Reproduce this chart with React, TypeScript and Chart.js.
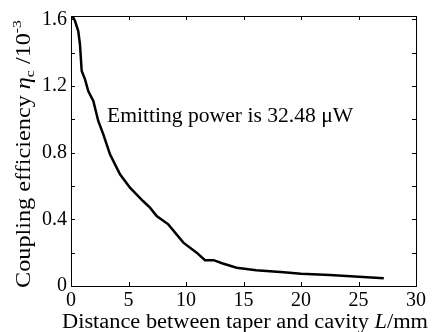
import React, { useEffect, useRef } from "react";
import { Chart, registerables } from "chart.js";

Chart.register(...registerables);

const distanceL = [0.1, 0.2, 0.35, 0.63, 0.78, 0.93, 1.22, 1.5, 1.94, 2.37, 2.81, 3.39, 4.26, 5.13, 6.26, 6.87, 7.45, 8.46, 9.77, 10.93, 11.65, 12.4, 13.2, 14.4, 16.1, 18.5, 20.0, 22.5, 27.2];
const efficiency = [1.62, 1.61, 1.59, 1.53, 1.45, 1.29, 1.24, 1.17, 1.11, 0.99, 0.91, 0.79, 0.67, 0.59, 0.51, 0.47, 0.42, 0.37, 0.26, 0.2, 0.155, 0.155, 0.135, 0.11, 0.095, 0.082, 0.074, 0.066, 0.046];
const xTicks = [0, 5, 10, 15, 20, 25, 30];
const yMinorTicks = [0, 0.2, 0.4, 0.6, 0.8, 1.0, 1.2, 1.4, 1.6];
const annotationText = "Emitting power is 32.48 \u03bcW";

const FONT = "'Liberation Serif', 'Times New Roman', serif";

type Part = { t: string; f: string; dy: number };

function drawParts(ctx: CanvasRenderingContext2D, parts: Part[], x: number, y: number, targetW: number, align: "center" | "left") {
  let w = 0;
  for (const p of parts) { ctx.font = p.f; w += ctx.measureText(p.t).width; }
  const sx = targetW / w;
  ctx.save();
  ctx.translate(x, y);
  ctx.scale(sx, 1);
  let px = align === "center" ? -w / 2 : 0;
  ctx.textAlign = "left";
  for (const p of parts) { ctx.font = p.f; ctx.fillText(p.t, px, p.dy); px += ctx.measureText(p.t).width; }
  ctx.restore();
}

const framePlugin = {
  id: "frameAndTitles",
  afterDraw(chart: any) {
    const ctx = chart.ctx as CanvasRenderingContext2D;
    const { left, right, top, bottom } = chart.chartArea;
    const xs = chart.scales.x;
    const ys = chart.scales.y;
    ctx.save();
    ctx.strokeStyle = "#000";
    ctx.lineWidth = 1;
    ctx.strokeRect(Math.round(left) + 0.5, Math.round(top) + 0.5, Math.round(right - left), Math.round(bottom - top));
    const tl = 4;
    ctx.beginPath();
    for (const v of xTicks) {
      const p = Math.round(xs.getPixelForValue(v)) + 0.5;
      ctx.moveTo(p, bottom);
      ctx.lineTo(p, bottom - tl);
      ctx.moveTo(p, top);
      ctx.lineTo(p, top + tl);
    }
    for (const v of yMinorTicks) {
      const p = Math.round(ys.getPixelForValue(v)) + 0.5;
      ctx.moveTo(left, p);
      ctx.lineTo(left + tl, p);
      ctx.moveTo(right, p);
      ctx.lineTo(right - tl, p);
    }
    ctx.stroke();

    ctx.fillStyle = "#000";
    ctx.textBaseline = "alphabetic";
    const size = 20;
    const normal = `${size}px ${FONT}`;
    const italic = `italic ${size}px ${FONT}`;
    const small = `13px ${FONT}`;

    // annotation
    ctx.font = normal;
    const aw = ctx.measureText(annotationText).width;
    drawParts(ctx, [{ t: annotationText, f: normal, dy: 0 }], 107, 122, aw * 1.08, "left");

    // x title
    drawParts(
      ctx,
      [
        { t: "Distance between taper and cavity ", f: normal, dy: 0 },
        { t: "L", f: italic, dy: 0 },
        { t: "/mm", f: normal, dy: 0 },
      ],
      245,
      328,
      366,
      "center"
    );

    // y title
    ctx.save();
    ctx.translate(30, 154);
    ctx.rotate(-Math.PI / 2);
    drawParts(
      ctx,
      [
        { t: "Coupling efficiency ", f: normal, dy: 0 },
        { t: "\u03b7", f: italic, dy: 0 },
        { t: "c", f: small, dy: 4 },
        { t: " /10", f: normal, dy: 0 },
        { t: "-3", f: small, dy: -9 },
      ],
      0,
      0,
      268,
      "center"
    );
    ctx.restore();
    ctx.restore();
  },
};

export default function App() {
  const ref = useRef<HTMLCanvasElement | null>(null);
  useEffect(() => {
    if (!ref.current) return;
    const chart = new Chart(ref.current, {
      type: "scatter",
      data: {
        datasets: [
          {
            data: distanceL.map((x, i) => ({ x, y: efficiency[i] })),
            showLine: true,
            borderColor: "#000",
            borderWidth: 2.5,
            pointRadius: 0,
            tension: 0,
          },
        ],
      },
      options: {
        responsive: false,
        animation: false,
        layout: { padding: { top: 15, right: 20, left: 0, bottom: 0 } },
        plugins: { legend: { display: false }, tooltip: { enabled: false } },
        scales: {
          x: {
            type: "linear",
            min: 0,
            max: 30,
            grid: { display: false, drawTicks: false },
            border: { display: false },
            ticks: { stepSize: 5, color: "#000", font: { family: FONT, size: 20 }, padding: 3, maxRotation: 0 },
            afterFit: (s: any) => { s.height = 46; },
          },
          y: {
            min: 0,
            max: 1.62,
            grid: { display: false, drawTicks: false },
            border: { display: false },
            afterBuildTicks: (s: any) => { s.ticks = yMinorTicks.map((v) => ({ value: v })); },
            ticks: {
              color: "#000",
              font: { family: FONT, size: 20 },
              padding: 4,
              callback: (v: any) => {
                const n = Number(v);
                const r = n / 0.4;
                if (Math.abs(r - Math.round(r)) > 1e-6) return "";
                return n === 0 ? "0" : n.toFixed(1);
              },
            },
            afterFit: (s: any) => { s.width = 71; },
          },
        },
      },
      plugins: [framePlugin],
    });
    return () => chart.destroy();
  }, []);
  return (
    <div style={{ position: "fixed", left: 0, top: 0, width: 436, height: 332, background: "#fff" }}>
      <canvas ref={ref} width={436} height={332} />
    </div>
  );
}
